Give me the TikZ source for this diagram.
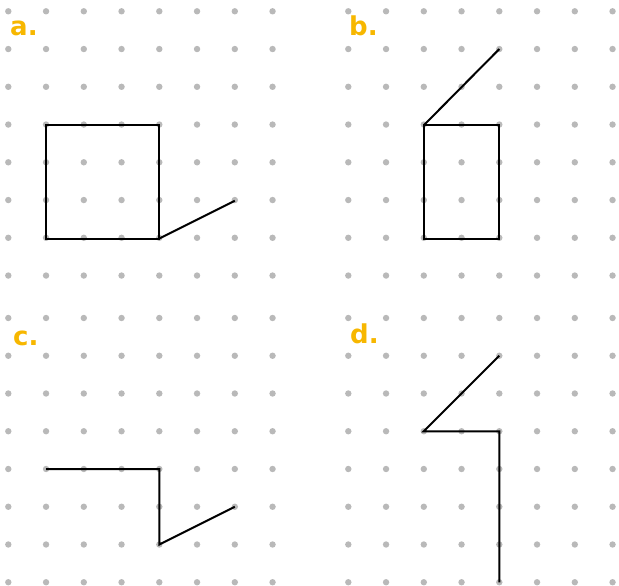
\documentclass[tikz,border=0pt]{standalone}
\usepackage{fontspec}
\setmainfont{DejaVu Sans}
\definecolor{lbl}{RGB}{247,183,0}
\definecolor{dotc}{RGB}{185,185,185}
\begin{document}
\begin{tikzpicture}[x=1pt,y=-1pt,
  gdot/.style={fill=dotc,draw=none},
  seg/.style={black,line width=2pt,line cap=butt,line join=miter},
  lab/.style={anchor=base west,inner sep=0pt,text=lbl,font=\bfseries\fontsize{26}{26}\selectfont}]
\useasboundingbox (0,0) rectangle (619,586);
% dot grids
\foreach \ox in {8.3,348.3}{
  \foreach \oy in {11.3,318}{
    \foreach \i in {0,...,7}{
      \foreach \j in {0,...,7}{
        \fill[gdot] ({\ox+37.75*\i},{\oy+37.75*\j}) circle (3.2);
      }
    }
  }
}
% labels
\node[lab] (la) at (10,36) {a.};
\node[lab] (lb) at (349,36) {b.};
\node[lab] (lc) at (13,345) {c.};
\node[lab] (ld) at (350,343) {d.};
% a
\coordinate (a1) at (46.05,125.25);
\coordinate (a2) at (159.3,125.25);
\coordinate (a3) at (159.3,238.5);
\coordinate (a4) at (46.05,238.5);
\coordinate (a5) at (234.8,200.75);
\draw[seg] (a1) -- (a2) -- (a3) -- (a4) -- cycle;
\draw[seg] (a3) -- (a5);
% b
\coordinate (b1) at (423.8,125.25);
\coordinate (b2) at (499.3,125.25);
\coordinate (b3) at (499.3,238.5);
\coordinate (b4) at (423.8,238.5);
\coordinate (b5) at (499.3,49.05);
\draw[seg] (b1) -- (b2) -- (b3) -- (b4) -- cycle;
\draw[seg] (b1) -- (b5);
% c
\coordinate (c1) at (46.05,469.0);
\coordinate (c2) at (159.3,469.0);
\coordinate (c3) at (159.3,544.5);
\coordinate (c4) at (234.8,506.75);
\draw[seg] (c1) -- (c2) -- (c3) -- (c4);
% d
\coordinate (d1) at (499.3,355.75);
\coordinate (d2) at (423.8,431.25);
\coordinate (d3) at (499.3,431.25);
\coordinate (d4) at (499.3,582.25);
\draw[seg] (d1) -- (d2) -- (d3) -- (d4);
\end{tikzpicture}
\end{document}
